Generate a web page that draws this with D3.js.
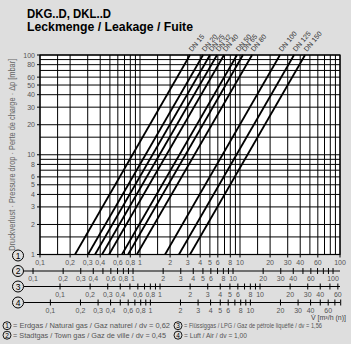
<!DOCTYPE html>
<html>
<head>
<meta charset="utf-8">
<script src="https://cdn.jsdelivr.net/npm/d3@7"></script>
<style>
  body { margin: 0; background: #dedede; }
  text { font-family: "Liberation Sans", Arial, sans-serif; }
</style>
</head>
<body>
<div id="chart"></div>
<script>
// leakage lines: flow (natural gas, m3/h) at 1 mbar and at 100 mbar
const dnNames = ["DN 15", "DN 20", "DN 25", "DN 32", "DN 40", "DN 50", "DN 65", "DN 80", "DN 100", "DN 125", "DN 150"];
const flowAt1 = [0.224, 0.302, 0.355, 0.417, 0.49, 0.66, 0.76, 0.93, 1.78, 2.45, 3.16];
const flowAt100 = [3.16, 4.27, 5.01, 5.89, 6.92, 9.33, 10.7, 13.2, 25.1, 34.7, 44.7];

// gases and their relative density
const gasNames = ["Erdgas / Natural gas / Gaz naturel / dv = 0,62",
  "Stadtgas / Town gas / Gaz de ville / dv = 0,45",
  "Flüssiggas / LPG / Gaz de pétrole liquéfié / dv = 1,56",
  "Luft / Air / dv = 1,00"];
const gasDv = [0.62, 0.45, 1.56, 1.00];

// tick labels
const yTicks = [1, 2, 3, 4, 5, 6, 8, 10, 20, 30, 40, 50, 60, 80, 100];
const xTicksLong = [0.1, 0.2, 0.3, 0.4, 0.6, 0.8, 1, 2, 3, 4, 5, 6, 8, 10, 20, 30, 40, 60, 100];
const xTicksShort = [0.1, 0.2, 0.3, 0.4, 0.6, 0.8, 1, 2, 3, 4, 5, 6, 8, 10, 20, 30, 40, 60];
const gasTickLabels = [xTicksLong, xTicksLong, xTicksShort, xTicksShort];

// grid lines
const gridY = [1, 1.5, 2, 3, 4, 5, 6, 7, 8, 9, 10, 15, 20, 30, 40, 50, 60, 70, 80, 90, 100];
const gridX = [0.1, 0.15, 0.2, 0.3, 0.4, 0.5, 0.6, 0.7, 0.8, 0.9, 1, 1.5, 2, 3, 4, 5, 6, 7, 8, 9,
  10, 15, 20, 30, 40, 50, 60, 70, 80, 90, 100];
const minorTicks = d3.range(-1, 3).flatMap(e => d3.range(1, 10).map(m => +(m * Math.pow(10, e)).toPrecision(3)));

const width = 351, height = 344;
const pLeft = 40, pRight = 340, pTop = 55, pBottom = 254.5;

const svg = d3.select("#chart").append("svg")
  .attr("width", width)
  .attr("height", height);

const x = d3.scaleLog().domain([0.1, 100]).range([pLeft, pRight]);
const y = d3.scaleLog().domain([1, 100]).range([pBottom, pTop]);
const fmt = v => String(v).replace(".", ",");

// title
svg.append("text").attr("x", 27).attr("y", 17.5)
  .attr("font-size", 12.5).attr("font-weight", "bold")
  .attr("textLength", 84).attr("lengthAdjust", "spacingAndGlyphs")
  .text("DKG..D, DKL..D");
svg.append("text").attr("x", 27).attr("y", 30.5)
  .attr("font-size", 12.5).attr("font-weight", "bold")
  .attr("textLength", 166).attr("lengthAdjust", "spacingAndGlyphs")
  .text("Leckmenge / Leakage / Fuite");

// plot area
svg.append("rect")
  .attr("x", pLeft).attr("y", pTop)
  .attr("width", pRight - pLeft).attr("height", pBottom - pTop)
  .attr("fill", "#fff");

svg.append("g").selectAll("line")
  .data(gridX)
  .join("line")
  .attr("x1", d => x(d)).attr("x2", d => x(d))
  .attr("y1", pTop).attr("y2", pBottom)
  .attr("stroke", "#000").attr("stroke-width", 1);

svg.append("g").selectAll("line")
  .data(gridY)
  .join("line")
  .attr("x1", pLeft).attr("x2", pRight)
  .attr("y1", d => y(d)).attr("y2", d => y(d))
  .attr("stroke", "#000").attr("stroke-width", 1);

svg.append("rect")
  .attr("x", pLeft).attr("y", pTop)
  .attr("width", pRight - pLeft).attr("height", pBottom - pTop)
  .attr("fill", "none").attr("stroke", "#000").attr("stroke-width", 1.2);

// leakage lines
const line = d3.line().x(d => x(d[0])).y(d => y(d[1]));
const lines = dnNames.map((name, i) => ({ name, pts: [[flowAt1[i], 1], [flowAt100[i], 100]] }));

svg.append("g").selectAll("path")
  .data(lines)
  .join("path")
  .attr("d", d => line(d.pts))
  .attr("fill", "none")
  .attr("stroke", "#000")
  .attr("stroke-width", 1.8);

svg.append("g").selectAll("text")
  .data(lines)
  .join("text")
  .attr("transform", d => `translate(${x(d.pts[1][0]) + 2},${pTop - 3}) rotate(-50)`)
  .attr("font-size", 7)
  .attr("fill", "#333")
  .text(d => d.name);

// y axis
const yAxis = svg.append("g");
yAxis.selectAll("line")
  .data(yTicks)
  .join("line")
  .attr("x1", pLeft - 3).attr("x2", pLeft)
  .attr("y1", d => y(d)).attr("y2", d => y(d))
  .attr("stroke", "#000");
yAxis.selectAll("text")
  .data(yTicks)
  .join("text")
  .attr("x", pLeft - 5).attr("y", d => y(d) + 2.5)
  .attr("text-anchor", "end")
  .attr("font-size", 7)
  .attr("fill", "#555")
  .text(d => d);

svg.append("text")
  .attr("transform", `translate(15,${(pTop + pBottom) / 2}) rotate(-90)`)
  .attr("text-anchor", "middle")
  .attr("font-size", 8.5)
  .attr("fill", "#666")
  .attr("textLength", 192).attr("lengthAdjust", "spacingAndGlyphs")
  .text("Druckverlust · Pressure drop · Perte de charge · \u0394p [mbar]");

// gas axes
const axisY = [pBottom, 271, 286.5, 302.5];

function circled(g, cx, cy, n) {
  g.append("circle").attr("cx", cx).attr("cy", cy).attr("r", 5.5)
    .attr("fill", "none").attr("stroke", "#000").attr("stroke-width", 1);
  g.append("text").attr("x", cx).attr("y", cy + 3)
    .attr("text-anchor", "middle").attr("font-size", 8.5).text(n);
}

gasDv.forEach((dv, i) => {
  const f = Math.sqrt(gasDv[0] / dv);
  const xs = d3.scaleLog().domain([0.1 * f, 100 * f]).range([pLeft, pRight]);
  const g = svg.append("g");
  const ay = axisY[i];
  circled(g, 18, ay + (i === 0 ? 1 : 0), i + 1);

  if (i === 0) {
    g.selectAll("line.t")
      .data(gasTickLabels[i])
      .join("line")
      .attr("x1", d => xs(d)).attr("x2", d => xs(d))
      .attr("y1", ay).attr("y2", ay + 3)
      .attr("stroke", "#000");
  } else {
    g.append("line")
      .attr("x1", 24).attr("x2", pRight)
      .attr("y1", ay).attr("y2", ay)
      .attr("stroke", "#000").attr("stroke-width", 1.2);
    g.selectAll("line.t")
      .data(minorTicks.filter(d => xs(d) <= pRight + 1))
      .join("line")
      .attr("x1", d => xs(d)).attr("x2", d => xs(d))
      .attr("y1", ay - 3).attr("y2", ay + 3)
      .attr("stroke", "#000");
  }

  g.selectAll("text.l")
    .data(gasTickLabels[i])
    .join("text")
    .attr("x", d => xs(d)).attr("y", ay + 10)
    .attr("text-anchor", "middle")
    .attr("font-size", 7)
    .attr("fill", "#555")
    .text(d => fmt(d));
});

svg.append("text")
  .attr("x", 346).attr("y", 320)
  .attr("text-anchor", "end")
  .attr("font-size", 7)
  .attr("fill", "#444")
  .text("V\u0307 [m\u00b3/h (n)]");

// legend
const legendPos = [[7, 328, 157], [7, 337.5, 153], [178, 328, 138], [178, 337.5, 63]];
gasNames.forEach((name, i) => {
  const [lx, ly, len] = legendPos[i];
  const g = svg.append("g");
  g.append("circle").attr("cx", lx).attr("cy", ly - 2.3).attr("r", 4)
    .attr("fill", "none").attr("stroke", "#000").attr("stroke-width", 0.9);
  g.append("text").attr("x", lx).attr("y", ly)
    .attr("text-anchor", "middle").attr("font-size", 6.5).text(i + 1);
  g.append("text").attr("x", lx + 6).attr("y", ly)
    .attr("font-size", 6.5)
    .attr("fill", "#555")
    .attr("textLength", len).attr("lengthAdjust", "spacingAndGlyphs")
    .text("= " + name);
});
</script>
</body>
</html>
